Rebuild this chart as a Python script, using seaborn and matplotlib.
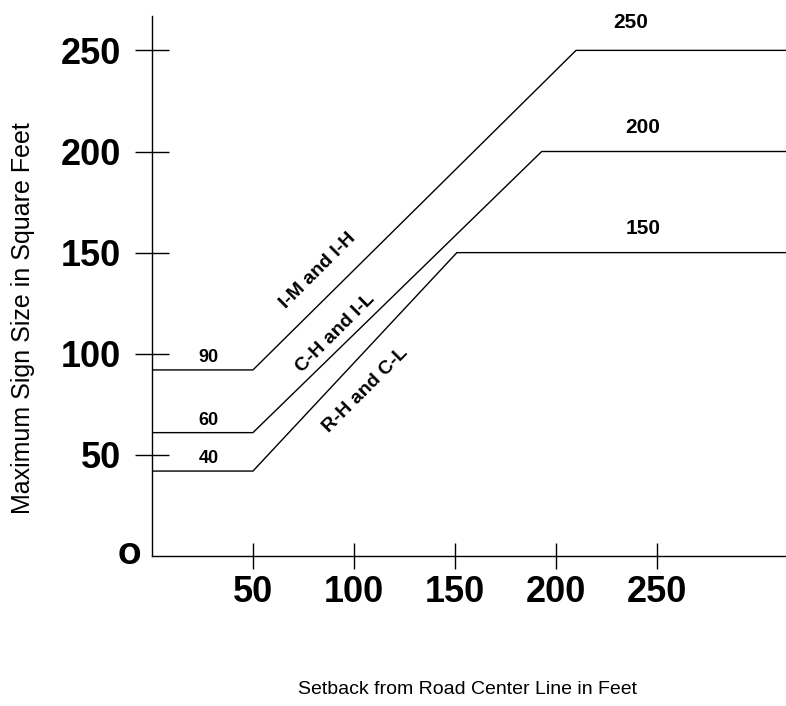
import matplotlib
matplotlib.use("Agg")
import matplotlib.pyplot as plt
import seaborn as sns

# breakpoints of the three limit lines (setback ft -> max sign size sq ft)
im_ih_x = [0, 50, 210, 314]
im_ih_y = [92, 92, 250, 250]
ch_il_x = [0, 50, 193, 314]
ch_il_y = [61, 61, 200, 200]
rh_cl_x = [0, 50, 151, 314]
rh_cl_y = [42, 42, 150, 150]

zone_labels = ["I-M and I-H", "C-H and I-L", "R-H and C-L"]
start_labels = ["90", "60", "40"]
end_labels = ["250", "200", "150"]
tick_vals = [50, 100, 150, 200, 250]

sns.set_style("ticks")
plt.rcParams["font.family"] = ["Liberation Sans", "DejaVu Sans"]
plt.rcParams.update({"text.color": "black", "axes.labelcolor": "black",
                     "xtick.color": "black", "ytick.color": "black"})

fig = plt.figure(figsize=(7.86, 7.06), dpi=100)
ax = fig.add_axes([152 / 786, 1 - 556 / 706, 634 / 786, 540 / 706])

for xs, ys in [(im_ih_x, im_ih_y), (ch_il_x, ch_il_y), (rh_cl_x, rh_cl_y)]:
    sns.lineplot(x=xs, y=ys, color="black", lw=1.0, ax=ax)

ax.set_xlim(0, 314)
ax.set_ylim(0, 267)
sns.despine(ax=ax)
for s in ["left", "bottom"]:
    ax.spines[s].set_color("black")
    ax.spines[s].set_linewidth(1.0)

ax.set_xticks(tick_vals)
ax.set_yticks(tick_vals)
ax.set_xticklabels([str(v) for v in tick_vals], fontsize=26, fontweight="bold")
ax.set_yticklabels([str(v) for v in tick_vals], fontsize=26, fontweight="bold")
ax.tick_params(axis="y", direction="inout", length=24, width=1, pad=10)
ax.tick_params(axis="x", direction="inout", length=19, width=1, pad=4)

# origin marker
ax.text(-11, 0, "O", fontsize=20, fontweight="bold", family=["DejaVu Sans"],
        ha="center", va="center", clip_on=False)

# start / end values
for lab, y in zip(start_labels, [98, 67, 48]):
    ax.text(28, y, lab, fontsize=13, fontweight="bold", ha="center", va="center")
for lab, x, y in zip(end_labels, [237, 243, 243], [264, 212, 162]):
    ax.text(x, y, lab, fontsize=15, fontweight="bold", ha="center", va="center",
            clip_on=False)

# zone names along the slopes
for lab, x, y in zip(zone_labels, [82, 91, 106], [141, 110, 82]):
    ax.text(x, y, lab, fontsize=14, fontweight="bold", rotation=45,
            ha="center", va="center", rotation_mode="anchor")

ax.set_ylabel("Maximum Sign Size in Square Feet", fontsize=18, va="center")
ax.yaxis.set_label_coords(-0.2035, 0.44)
ax.set_xlabel("Setback from Road Center Line in Feet", fontsize=14, va="center")
ax.xaxis.set_label_coords(0.497, -0.248)

fig.savefig("out.png", dpi=100)
